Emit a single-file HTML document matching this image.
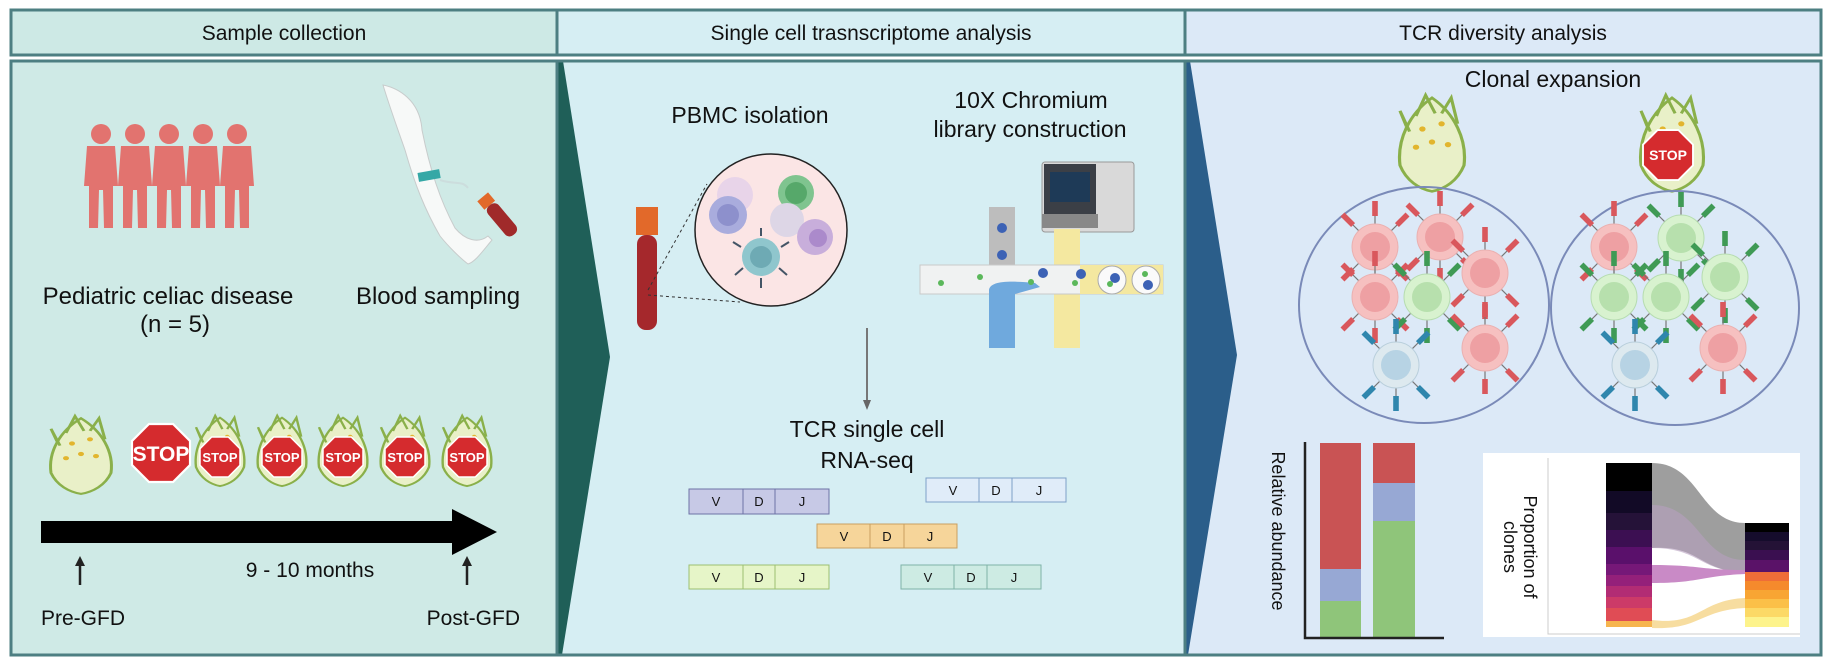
<!DOCTYPE html>
<html><head><meta charset="utf-8"><style>
html,body{margin:0;padding:0;background:#fff;}
svg{display:block;}
text{font-family:"Liberation Sans",Arial,sans-serif;fill:#111;}
</style></head><body>
<svg width="1830" height="670" viewBox="0 0 1830 670" xmlns="http://www.w3.org/2000/svg">
<defs>
<g id="spk"><line x1="0" y1="-22" x2="0" y2="-32" stroke="#777" stroke-width="1.2"/><rect x="-2.8" y="-46" width="5.6" height="15"/></g>
<g id="spikes"><use href="#spk"/><use href="#spk" transform="rotate(45)"/><use href="#spk" transform="rotate(135)"/><use href="#spk" transform="rotate(180)"/><use href="#spk" transform="rotate(225)"/><use href="#spk" transform="rotate(315)"/></g>
<g id="cellR"><g fill="#d9575c"><use href="#spikes"/></g><circle r="23" fill="#f6c0c0" stroke="#eab0b0"/><circle r="15" fill="#eea0a3"/></g>
<g id="cellG"><g fill="#3f9a55"><use href="#spikes"/></g><circle r="23" fill="#d8f2cf" stroke="#b6dcb0"/><circle r="15" fill="#b7e0ad"/></g>
<g id="cellB"><g fill="#2f86ad"><use href="#spikes"/></g><circle r="23" fill="#dde9ef" stroke="#b9cfdc"/><circle r="15" fill="#b7d3e4"/></g>
<g id="plant">
<path d="M0,-34 C14,-22 22,-2 20,18 C16,30 8,36 0,38 C-8,36 -16,30 -20,18 C-22,-2 -14,-22 0,-34Z" fill="#e9f0c8" stroke="#8ab04a" stroke-width="2"/>
<path d="M-10,-20 L-4,-36 L2,-22 M6,-22 L12,-34 L16,-14 M-16,-12 L-20,-24 L-14,-8" fill="none" stroke="#8ab04a" stroke-width="2"/>
<circle cx="-6" cy="-10" r="2" fill="#e2b52d"/><circle cx="6" cy="-14" r="2" fill="#e2b52d"/><circle cx="0" cy="0" r="2" fill="#e2b52d"/><circle cx="-10" cy="4" r="2" fill="#e2b52d"/><circle cx="10" cy="2" r="2" fill="#e2b52d"/>
</g>
<g id="oct"><polygon points="-8.3,-20 8.3,-20 20,-8.3 20,8.3 8.3,20 -8.3,20 -20,8.3 -20,-8.3" fill="#d52b2e" stroke="#fff" stroke-width="1.5"/></g>
<g id="kid"><circle cx="0" cy="-44" r="10"/><path d="M-14,-32 L14,-32 L17,8 L12,8 L12,50 L3,50 L2,12 L-2,12 L-3,50 L-12,50 L-12,8 L-17,8Z"/></g>
</defs>

<rect x="11" y="10" width="546" height="45" fill="#cde9e5"/>
<rect x="557" y="10" width="628" height="45" fill="#d6eef3"/>
<rect x="1185" y="10" width="636" height="45" fill="#dce9f7"/>
<rect x="11" y="61" width="546" height="594" fill="#cfeae6"/>
<rect x="557" y="61" width="628" height="594" fill="#d6eef3"/>
<rect x="1185" y="61" width="636" height="594" fill="#dce9f7"/>
<polygon points="557,61 563,61 610,357 562,655 557,655" fill="#1f5f58"/>
<polygon points="1185,61 1190,61 1237,355 1188,655 1185,655" fill="#2b5e8a"/>
<g fill="none" stroke="#4d7f82" stroke-width="3">
<rect x="11" y="10" width="1810" height="45"/>
<line x1="557" y1="10" x2="557" y2="55"/><line x1="1185" y1="10" x2="1185" y2="55"/>
<rect x="11" y="61" width="1810" height="594"/>
<line x1="557" y1="61" x2="557" y2="655"/><line x1="1185" y1="61" x2="1185" y2="655"/>
</g>
<text x="284" y="40" font-size="21" text-anchor="middle">Sample collection</text>
<text x="871" y="40" font-size="21" text-anchor="middle">Single cell trasnscriptome analysis</text>
<text x="1503" y="40" font-size="21" text-anchor="middle">TCR diversity analysis</text>

<g fill="#e2736f">
<use href="#kid" x="101" y="178"/><use href="#kid" x="135" y="178"/><use href="#kid" x="169" y="178"/><use href="#kid" x="203" y="178"/><use href="#kid" x="237" y="178"/>
</g>
<path d="M383,85 C398,88 420,100 422,130 C430,170 440,200 455,228 C465,240 478,244 488,236 L492,240 C482,252 475,262 468,264 C460,258 448,246 440,236 C425,210 415,185 405,150 C398,130 390,108 383,85Z" fill="#f7f9f8" stroke="#c8cccc" stroke-width="1"/>
<rect x="418" y="171" width="22" height="9" fill="#35a8a6" transform="rotate(-10 429 175)"/>
<path d="M440,180 C455,185 462,180 468,188" fill="none" stroke="#cdd" stroke-width="2"/>
<g transform="rotate(-40 495 210)"><rect x="487" y="192" width="14" height="11" fill="#e2692a"/><rect x="487" y="203" width="14" height="38" rx="6" fill="#a02a2a"/></g>
<text x="168" y="304" font-size="24" text-anchor="middle">Pediatric celiac disease</text>
<text x="175" y="332" font-size="24" text-anchor="middle">(n = 5)</text>
<text x="438" y="304" font-size="24" text-anchor="middle">Blood sampling</text>
<g transform="translate(81,454) scale(1.5,1.05)"><use href="#plant"/></g>
<g transform="translate(161,453) scale(1.45)"><use href="#oct"/></g>
<text x="161" y="461" font-size="21" font-weight="bold" text-anchor="middle" style="fill:#fff">STOP</text>
<g id="sp">
<g transform="translate(220,450) scale(1.2,0.95)"><use href="#plant"/></g>
<g transform="translate(220,457)"><use href="#oct"/></g>
<text x="220" y="462" font-size="13" font-weight="bold" text-anchor="middle" style="fill:#fff">STOP</text>
</g>
<use href="#sp" x="62"/><use href="#sp" x="123"/><use href="#sp" x="185"/><use href="#sp" x="247"/>
<rect x="41" y="521" width="415" height="22" fill="#000"/>
<polygon points="452,509 497,532 452,555" fill="#000"/>
<g stroke="#222" stroke-width="2.5"><line x1="80" y1="585" x2="80" y2="563"/><line x1="467" y1="585" x2="467" y2="563"/></g>
<polygon points="80,556 75,566 85,566" fill="#222"/><polygon points="467,556 462,566 472,566" fill="#222"/>
<text x="310" y="577" font-size="21" text-anchor="middle">9 - 10 months</text>
<text x="41" y="625" font-size="21">Pre-GFD</text>
<text x="520" y="625" font-size="21" text-anchor="end">Post-GFD</text>

<text x="750" y="123" font-size="23" text-anchor="middle">PBMC isolation</text>
<text x="1031" y="108" font-size="23" text-anchor="middle">10X Chromium</text>
<text x="1030" y="137" font-size="23" text-anchor="middle">library construction</text>
<rect x="636" y="207" width="22" height="28" fill="#e2692a"/>
<rect x="637" y="235" width="20" height="95" rx="9" fill="#a5282c"/>
<line x1="648" y1="290" x2="707" y2="184" stroke="#333" stroke-dasharray="3,3"/>
<line x1="648" y1="295" x2="740" y2="302" stroke="#333" stroke-dasharray="3,3"/>
<circle cx="771" cy="230" r="76" fill="#fbe5e5" stroke="#222" stroke-width="1.5"/>
<circle cx="735" cy="195" r="18" fill="#e4d0ea" opacity=".8"/><circle cx="728" cy="215" r="19" fill="#a9acdd"/><circle cx="728" cy="215" r="11" fill="#8d90cc"/>
<circle cx="796" cy="193" r="18" fill="#7fc48f"/><circle cx="796" cy="193" r="11" fill="#56a86a"/>
<circle cx="787" cy="220" r="17" fill="#ddd6e6"/>
<circle cx="815" cy="237" r="18" fill="#c8aedb"/><circle cx="818" cy="238" r="9" fill="#ab8acb"/>
<circle cx="761" cy="257" r="19" fill="#8fc6cd"/><circle cx="761" cy="257" r="11" fill="#6eaab4"/>
<g stroke="#456" stroke-width="2"><line x1="761" y1="236" x2="761" y2="228"/><line x1="761" y1="278" x2="761" y2="288"/><line x1="741" y1="247" x2="733" y2="242"/><line x1="781" y1="247" x2="789" y2="242"/><line x1="743" y1="268" x2="735" y2="275"/><line x1="779" y1="268" x2="787" y2="275"/></g>
<rect x="1042" y="162" width="92" height="70" rx="3" fill="#d9d9d9" stroke="#999"/>
<rect x="1044" y="164" width="52" height="50" fill="#3b3f46"/>
<rect x="1050" y="172" width="40" height="30" fill="#1e3a57"/>
<rect x="1042" y="214" width="56" height="14" fill="#888"/>
<rect x="1054" y="229" width="26" height="119" fill="#f4e8a0"/>
<rect x="989" y="207" width="26" height="60" fill="#bdbdbd"/>
<rect x="920" y="265" width="243" height="29" fill="#f0f2f2" stroke="#c9c9c9"/>
<path d="M989,348 L989,290 C990,282 1005,280 1035,283 L1040,287 L1015,294 L1015,348Z" fill="#6fa9dd"/>
<rect x="1080" y="265" width="83" height="29" fill="#f4e8a0"/>
<circle cx="1112" cy="280" r="14" fill="#fafafa" stroke="#aaa"/><circle cx="1146" cy="280" r="14" fill="#fafafa" stroke="#aaa"/>
<g fill="#3c62b5"><circle cx="1002" cy="228" r="5"/><circle cx="1002" cy="255" r="5"/><circle cx="1043" cy="273" r="5"/><circle cx="1081" cy="274" r="5"/><circle cx="1115" cy="278" r="5"/><circle cx="1148" cy="285" r="5"/></g>
<g fill="#5bb85b"><circle cx="941" cy="283" r="3"/><circle cx="980" cy="277" r="3"/><circle cx="1031" cy="282" r="3"/><circle cx="1075" cy="283" r="3"/><circle cx="1110" cy="284" r="3"/><circle cx="1145" cy="274" r="3"/></g>
<line x1="867" y1="328" x2="867" y2="402" stroke="#777" stroke-width="2"/>
<polygon points="863,400 871,400 867,410" fill="#666"/>
<text x="867" y="437" font-size="23" text-anchor="middle">TCR single cell</text>
<text x="867" y="468" font-size="23" text-anchor="middle">RNA-seq</text>
<g font-size="13" text-anchor="middle">
<g transform="translate(689,489)"><rect width="140" height="25" fill="#c7c9e6" stroke="#6d72a6"/><line x1="54" y1="0" x2="54" y2="25" stroke="#6d72a6"/><line x1="86" y1="0" x2="86" y2="25" stroke="#6d72a6"/><text x="27" y="17">V</text><text x="70" y="17">D</text><text x="113" y="17">J</text></g>
<g transform="translate(926,478)"><rect width="140" height="24" fill="#e0ecf9" stroke="#7ea0c8"/><line x1="53" y1="0" x2="53" y2="24" stroke="#7ea0c8"/><line x1="86" y1="0" x2="86" y2="24" stroke="#7ea0c8"/><text x="27" y="17">V</text><text x="70" y="17">D</text><text x="113" y="17">J</text></g>
<g transform="translate(817,524)"><rect width="140" height="24" fill="#f6d59a" stroke="#c9a060"/><line x1="53" y1="0" x2="53" y2="24" stroke="#c9a060"/><line x1="87" y1="0" x2="87" y2="24" stroke="#c9a060"/><text x="27" y="17">V</text><text x="70" y="17">D</text><text x="113" y="17">J</text></g>
<g transform="translate(689,565)"><rect width="140" height="24" fill="#e6f5c8" stroke="#9cc070"/><line x1="54" y1="0" x2="54" y2="24" stroke="#9cc070"/><line x1="86" y1="0" x2="86" y2="24" stroke="#9cc070"/><text x="27" y="17">V</text><text x="70" y="17">D</text><text x="113" y="17">J</text></g>
<g transform="translate(901,565)"><rect width="140" height="24" fill="#cdebe3" stroke="#7eb3a7"/><line x1="53" y1="0" x2="53" y2="24" stroke="#7eb3a7"/><line x1="86" y1="0" x2="86" y2="24" stroke="#7eb3a7"/><text x="27" y="17">V</text><text x="70" y="17">D</text><text x="113" y="17">J</text></g>
</g>

<text x="1553" y="87" font-size="23" text-anchor="middle">Clonal expansion</text>
<g transform="translate(1432,142) scale(1.6,1.3)"><use href="#plant"/></g>
<g transform="translate(1672,142) scale(1.55,1.3)"><use href="#plant"/></g>
<g transform="translate(1668,155) scale(1.25)"><use href="#oct"/></g>
<text x="1668" y="160" font-size="14" font-weight="bold" text-anchor="middle" style="fill:#fff">STOP</text>
<ellipse cx="1424" cy="305" rx="125" ry="118" fill="none" stroke="#7a8ab8" stroke-width="2"/>
<ellipse cx="1675" cy="308" rx="124" ry="117" fill="none" stroke="#7a8ab8" stroke-width="2"/>
<use href="#cellR" x="1375" y="247"/><use href="#cellR" x="1440" y="237"/><use href="#cellR" x="1375" y="297"/><use href="#cellR" x="1485" y="273"/><use href="#cellG" x="1427" y="297"/><use href="#cellR" x="1485" y="348"/><use href="#cellB" x="1396" y="365"/>
<use href="#cellR" x="1614" y="247"/><use href="#cellG" x="1681" y="238"/><use href="#cellG" x="1725" y="277"/><use href="#cellG" x="1614" y="297"/><use href="#cellG" x="1666" y="297"/><use href="#cellR" x="1723" y="348"/><use href="#cellB" x="1635" y="365"/>
<rect x="1320" y="443" width="41" height="126" fill="#c95354"/><rect x="1320" y="569" width="41" height="32" fill="#97a8d4"/><rect x="1320" y="601" width="41" height="36" fill="#8fc57a"/>
<rect x="1373" y="443" width="42" height="40" fill="#c95354"/><rect x="1373" y="483" width="42" height="38" fill="#97a8d4"/><rect x="1373" y="521" width="42" height="116" fill="#8fc57a"/>
<path d="M1305,442 L1305,638 L1444,638" fill="none" stroke="#222" stroke-width="2.5"/>
<text transform="translate(1272,531) rotate(90)" font-size="18" text-anchor="middle">Relative abundance</text>
<rect x="1483" y="453" width="317" height="184" fill="#fff"/>
<path d="M1548,458 L1548,634 L1800,634" fill="none" stroke="#ccc" stroke-width="1"/>
<text transform="translate(1524,547) rotate(90)" font-size="18" text-anchor="middle">Proportion of</text>
<text transform="translate(1504,547) rotate(90)" font-size="18" text-anchor="middle">clones</text>
<path d="M1652,463 C1700,463 1700,523 1745,523 L1745,572 C1700,572 1700,545 1652,548Z" fill="#8d8d8d" opacity=".85"/>
<path d="M1652,505 C1700,505 1700,560 1745,560 L1745,572 C1700,572 1700,548 1652,548Z" fill="#b8a0c0" opacity=".6"/>
<path d="M1652,565 C1700,565 1700,570 1745,570 L1745,574 C1700,576 1700,583 1652,583Z" fill="#c98ac6"/>
<path d="M1652,620 C1700,626 1700,600 1745,598 L1745,608 C1700,610 1700,630 1652,628Z" fill="#f7dda0"/>
<g>
<rect x="1606" y="463" width="46" height="28" fill="#000"/>
<rect x="1606" y="491" width="46" height="22" fill="#120a26"/>
<rect x="1606" y="513" width="46" height="17" fill="#251238"/>
<rect x="1606" y="530" width="46" height="17" fill="#3c0f52"/>
<rect x="1606" y="547" width="46" height="17" fill="#5a106b"/>
<rect x="1606" y="564" width="46" height="11" fill="#761878"/>
<rect x="1606" y="575" width="46" height="11" fill="#94207a"/>
<rect x="1606" y="586" width="46" height="11" fill="#b22c74"/>
<rect x="1606" y="597" width="46" height="11" fill="#cc3a68"/>
<rect x="1606" y="608" width="46" height="13" fill="#e04c55"/>
<rect x="1606" y="621" width="46" height="6" fill="#f6b54f"/>
</g>
<g>
<rect x="1745" y="523" width="44" height="9" fill="#000"/>
<rect x="1745" y="532" width="44" height="9" fill="#150c2c"/>
<rect x="1745" y="541" width="44" height="9" fill="#241236"/>
<rect x="1745" y="550" width="44" height="10" fill="#3a0f50"/>
<rect x="1745" y="560" width="44" height="12" fill="#5a1268"/>
<rect x="1745" y="572" width="44" height="9" fill="#ef6d38"/>
<rect x="1745" y="581" width="44" height="9" fill="#f58a2c"/>
<rect x="1745" y="590" width="44" height="9" fill="#f8a533"/>
<rect x="1745" y="599" width="44" height="9" fill="#fbc048"/>
<rect x="1745" y="608" width="44" height="9" fill="#fcd966"/>
<rect x="1745" y="617" width="44" height="10" fill="#fdf38c"/>
</g>
</svg>
</body></html>
